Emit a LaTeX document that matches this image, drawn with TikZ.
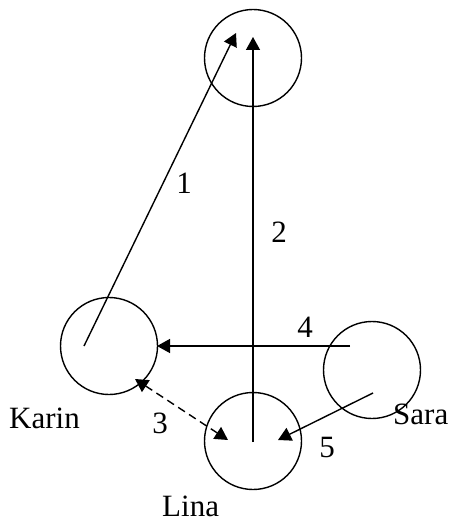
\documentclass[tikz,border=0pt]{standalone}
\usepackage{fontspec}
\setmainfont{Liberation Serif}
\usetikzlibrary{arrows.meta}
\begin{document}
\begin{tikzpicture}[x=1pt,y=-1pt,
  person/.style={circle,draw,line width=1.4pt,minimum size=97pt,inner sep=0pt},
  tip/.tip={Triangle[length=13pt,width=14pt]},
  link/.style={line width=1.4pt,-tip},
  biglabel/.style={font=\fontsize{31}{36}\selectfont,inner sep=0pt}]
\useasboundingbox (0,0) rectangle (449,524);
% circles
\node[person] (top) at (253,58) {};
\node[person] (karin) at (109,346) {};
\node[person] (lina) at (253,441) {};
\node[person] (sara) at (372,370) {};
% end points
\coordinate (k1) at (84,346);
\coordinate (t1) at (236,33);
\coordinate (l2) at (253,442);
\coordinate (t2) at (253,37);
\coordinate (k3) at (135,379);
\coordinate (l3) at (228,440);
\coordinate (s4) at (350,346);
\coordinate (k4) at (157,346);
\coordinate (s5) at (373,393);
\coordinate (l5) at (278,440);
% connectors
\draw[link] (k1) -- (t1);
\draw[link] (l2) -- (t2);
\draw[link,tip-tip,dash pattern=on 8pt off 5pt] (k3) -- (l3);
\draw[link] (s4) -- (k4);
\draw[link] (s5) -- (l5);
% labels
\node[biglabel,anchor=base] (n1) at (184,193) {1};
\node[biglabel,anchor=base] (n2) at (279,242) {2};
\node[biglabel,anchor=base] (n3) at (160,433) {3};
\node[biglabel,anchor=base] (n4) at (305,337) {4};
\node[biglabel,anchor=base] (n5) at (327,457) {5};
\node[biglabel,anchor=base west] (karinlbl) at (9,428) {Karin};
\node[biglabel,anchor=base west] (saralbl) at (393,424) {Sara};
\node[biglabel,anchor=base west] (linalbl) at (162,516) {Lina};
\end{tikzpicture}
\end{document}
